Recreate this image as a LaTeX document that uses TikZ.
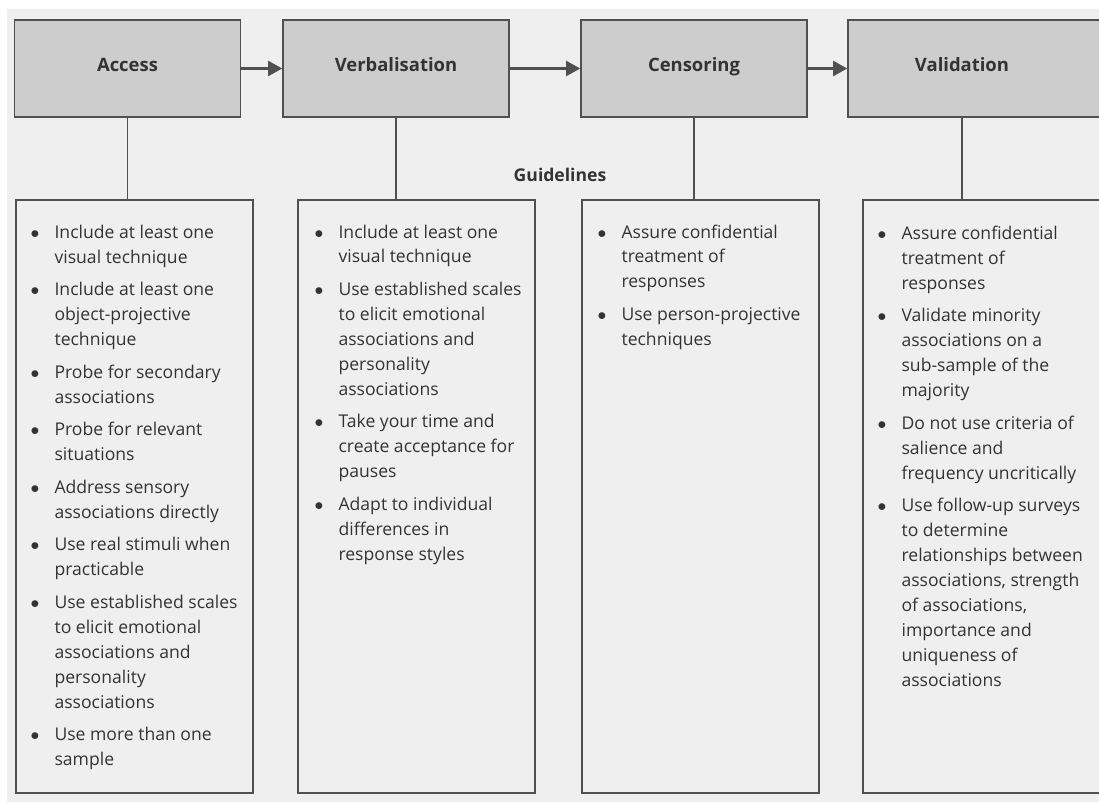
\documentclass[tikz,border=0pt]{standalone}
\usepackage{fontspec}
\setmainfont{Open Sans}
\usetikzlibrary{arrows.meta}

\begin{document}
\begin{tikzpicture}[
    every node/.style={align=center},
    stage/.style={draw=rule, line width=0.9pt, fill=panel, minimum width=4.52cm, minimum height=1.94cm, text height=1.5ex, text depth=0.9ex, font=\bfseries\fontsize{10.5}{12}\selectfont, text=ink},
    panelbox/.style={draw=rule, line width=0.9pt, minimum width=4.74cm, minimum height=11.86cm},
    guide/.style={anchor=north west, inner sep=0pt, align=left, text=ink, font=\fontsize{10}{14.2}\selectfont},
    flow/.style={draw=rule, line width=1.2pt, -{Triangle[length=0.28cm, width=0.3cm]}},
    link/.style={draw=rule, line width=0.9pt}]
  % Four stages with their guidelines
  \definecolor{panel}{HTML}{CDCDCD}
  \definecolor{paper}{HTML}{EFEFEF}
  \definecolor{ink}{HTML}{333333}
  \definecolor{rule}{HTML}{505050}
  \useasboundingbox (0,0) rectangle (21.98,-16.02);
  \fill[white] (0,0) rectangle (21.98,-16.02);
  \fill[paper] (0.14,-0.18) rectangle (22.2,-16.2);

  \node[stage] (access) at (2.55,-1.37) {Access};
  \node[stage] (verbal) at (7.92,-1.37) {Verbalisation};
  \node[stage] (censor) at (13.88,-1.37) {Censoring};
  \node[stage, minimum width=5.04cm] (valid) at (19.48,-1.37) {Validation\hspace*{0.48cm}};

  \path[flow] (access) -- (verbal);
  \path[flow] (verbal) -- (censor);
  \path[flow] (censor) -- (valid);

  \node[font=\bfseries\fontsize{10}{12}\selectfont, text=ink] (guidelines) at (11.2,-3.5) {Guidelines};

  \node[panelbox] (accessbox) at (2.69,-9.93) {};
  \node[panelbox] (verbalbox) at (8.33,-9.93) {};
  \node[panelbox] (censorbox) at (14.01,-9.93) {};
  \node[panelbox] (validbox) at (19.63,-9.93) {};

  \coordinate (validtop) at ([xshift=-0.24cm]valid.south);
  \path[link] (access.south) -- (access.south |- accessbox.north);
  \path[link] (verbal.south) -- (verbal.south |- verbalbox.north);
  \path[link] (censor.south) -- (censor.south |- censorbox.north);
  \path[link] (validtop) -- (validtop |- validbox.north);

  \node[guide] (accesslist) at ([xshift=0.3cm, yshift=-0.43cm]accessbox.north west) {%
    \begin{tabular}[t]{@{}p{0.48cm}@{}l@{}}
      $\bullet$ & Include at least one\\
                & visual technique\\[4.3pt]
      $\bullet$ & Include at least one\\
                & object-projective\\
                & technique\\[4.3pt]
      $\bullet$ & Probe for secondary\\
                & associations\\[4.3pt]
      $\bullet$ & Probe for relevant\\
                & situations\\[4.3pt]
      $\bullet$ & Address sensory\\
                & associations directly\\[4.3pt]
      $\bullet$ & Use real stimuli when\\
                & practicable\\[4.3pt]
      $\bullet$ & Use established scales\\
                & to elicit emotional\\
                & associations and\\
                & personality\\
                & associations\\[4.3pt]
      $\bullet$ & Use more than one\\
                & sample
    \end{tabular}};

  \node[guide] (verballist) at ([xshift=0.34cm, yshift=-0.42cm]verbalbox.north west) {%
    \begin{tabular}[t]{@{}p{0.48cm}@{}l@{}}
      $\bullet$ & Include at least one\\
                & visual technique\\[4.3pt]
      $\bullet$ & Use established scales\\
                & to elicit emotional\\
                & associations and\\
                & personality\\
                & associations\\[4.3pt]
      $\bullet$ & Take your time and\\
                & create acceptance for\\
                & pauses\\[4.3pt]
      $\bullet$ & Adapt to individual\\
                & differences in\\
                & response styles
    \end{tabular}};

  \node[guide] (censorlist) at ([xshift=0.32cm, yshift=-0.42cm]censorbox.north west) {%
    \begin{tabular}[t]{@{}p{0.48cm}@{}l@{}}
      $\bullet$ & Assure confidential\\
                & treatment of\\
                & responses\\[4.3pt]
      $\bullet$ & Use person-projective\\
                & techniques
    \end{tabular}};

  \node[guide] (validlist) at ([xshift=0.3cm, yshift=-0.45cm]validbox.north west) {%
    \begin{tabular}[t]{@{}p{0.48cm}@{}l@{}}
      $\bullet$ & Assure confidential\\
                & treatment of\\
                & responses\\[4.3pt]
      $\bullet$ & Validate minority\\
                & associations on a\\
                & sub-sample of the\\
                & majority\\[4.3pt]
      $\bullet$ & Do not use criteria of\\
                & salience and\\
                & frequency uncritically\\[4.3pt]
      $\bullet$ & Use follow-up surveys\\
                & to determine\\
                & relationships between\\
                & associations, strength\\
                & of associations,\\
                & importance and\\
                & uniqueness of\\
                & associations
    \end{tabular}};
\end{tikzpicture}
\end{document}
